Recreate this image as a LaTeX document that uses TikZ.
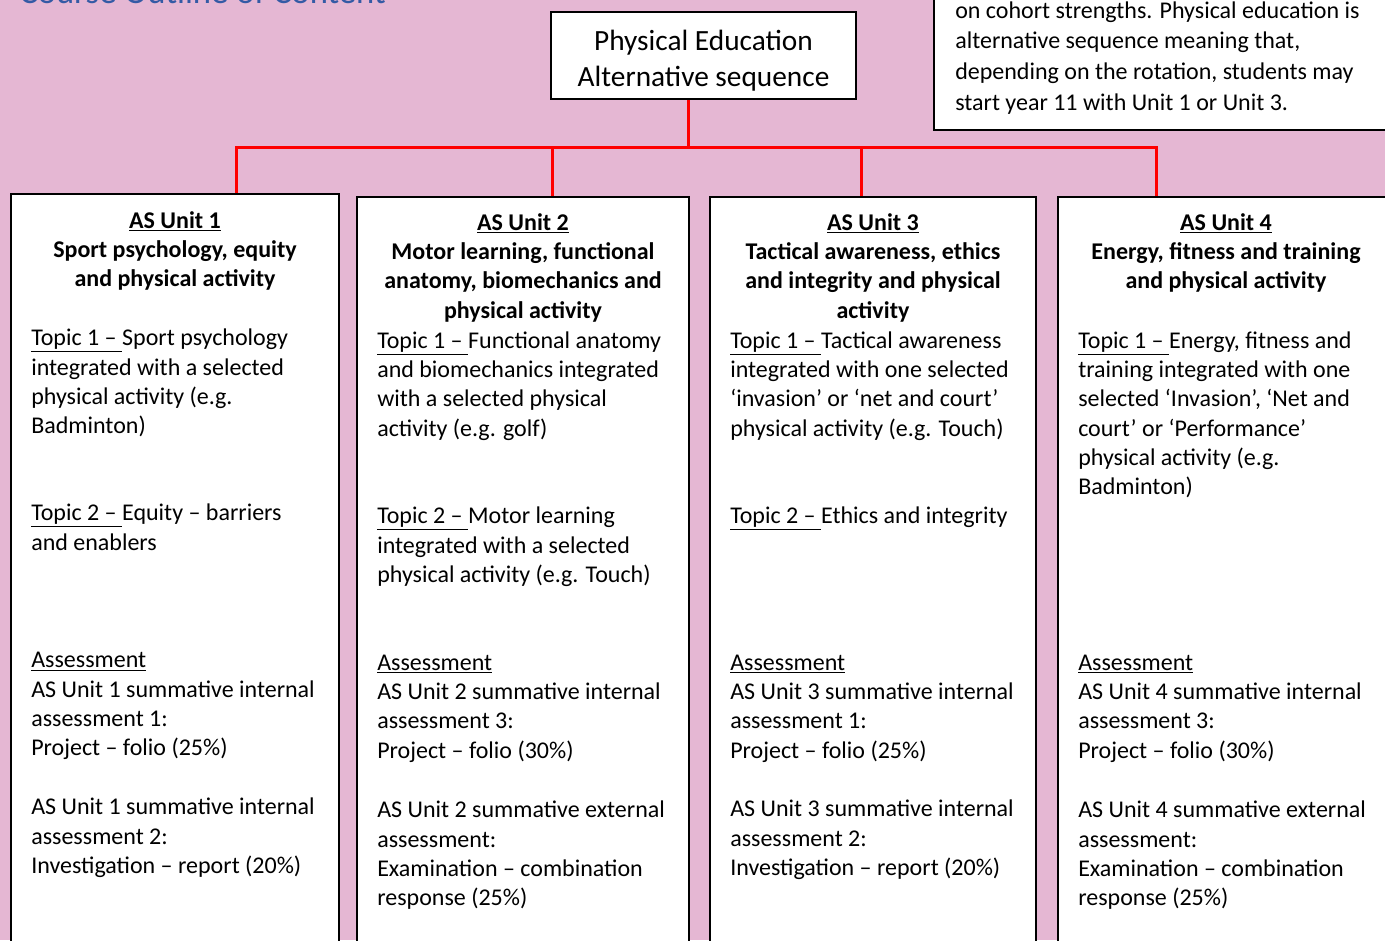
\documentclass[tikz,border=0pt]{standalone}
\usepackage{fontspec}
\setmainfont{Carlito}
\usetikzlibrary{fit}
\definecolor{pinkbg}{RGB}{229,183,211}
\definecolor{headblue}{RGB}{52,90,165}
\definecolor{linkred}{RGB}{255,0,0}

\begin{document}
\begin{tikzpicture}
        [x=0.75pt, y=-0.75pt,
        box/.style={draw, line width=1.5pt, fill=white, inner sep=0pt},
        txt/.style={anchor=north west, align=left, inner sep=0pt, font=\fontsize{18}{22}\selectfont},
        head/.style={anchor=north, align=center, inner sep=0pt, font=\fontsize{18}{22}\selectfont\bfseries},
        link/.style={draw=linkred, line width=2.25pt}]
        \useasboundingbox (0,0) rectangle (1385,940);
        \clip (0,0) rectangle (1385,940);
        \fill[pinkbg] (0,0) rectangle (1385,940);
        \node[anchor=base east, inner sep=0pt, text=headblue, font=\fontsize{26}{30}\selectfont] (heading) at (386,3) {Course Outline of Content};

        % boxes
        \node[box, fit={(551,12) (856,99)}] (title) {};
        \node[align=center, inner sep=0pt, font=\fontsize{22}{27}\selectfont] (titletxt) at (703.5,61) {Physical Education\\Alternative sequence};
        \node[box, fit={(934,-20) (1400,130)}] (note) {};
        \node[box, fit={(11,194) (339,960)}] (u1) {};
        \node[box, fit={(357,197) (689,960)}] (u2) {};
        \node[box, fit={(710,197) (1036,960)}] (u3) {};
        \node[box, fit={(1058,197) (1400,960)}] (u4) {};

        % red links
        \coordinate (bus) at (688,147);
        \coordinate (b1) at (236,147);
        \coordinate (b2) at (552,147);
        \coordinate (b3) at (861,147);
        \coordinate (b4) at (1156,147);
        \draw[link] (title.south -| bus) -- (bus);
        \draw[link] (b1 |- u1.north) -- (b1) -- (b4) -- (b4 |- u4.north);
        \draw[link] (b2) -- (b2 |- u2.north);
        \draw[link] (b3) -- (b3 |- u3.north);

        % note text
        \node[txt, font=\fontsize{18}{23}\selectfont] (notetxt) at (955,-3.5) {\strut on cohort strengths. Physical education is\\alternative sequence meaning that,\\depending on the rotation, students may\\start year 11 with Unit 1 or Unit 3.};

        % unit 1
        \node[head] (h1) at (175,207.5) {\strut\underline{AS Unit 1}\\Sport psychology, equity\\and physical activity};
        \node[txt] (t11) at (31,325) {\strut\underline{Topic 1 –\ }Sport psychology\\integrated with a selected\\physical activity (e.g.\\Badminton)};
        \node[txt] (t12) at (31,500) {\strut\underline{Topic 2 –\ }Equity – barriers\\and enablers};
        \node[txt] (a11) at (31,647) {\strut\underline{Assessment}\\AS Unit 1 summative internal\\assessment 1:\\Project – folio (25\%)};
        \node[txt] (a12) at (31,794) {\strut AS Unit 1 summative internal\\assessment 2:\\Investigation – report (20\%)};

        % unit 2
        \node[head] (h2) at (523,209.5) {\strut\underline{AS Unit 2}\\Motor learning, functional\\anatomy, biomechanics and\\physical activity};
        \node[txt] (t21) at (377,327.5) {\strut\underline{Topic 1 –\ }Functional anatomy\\and biomechanics integrated\\with a selected physical\\activity (e.g. golf)};
        \node[txt] (t22) at (377,503) {\strut\underline{Topic 2 –\ }Motor learning\\integrated with a selected\\physical activity (e.g. Touch)};
        \node[txt] (a21) at (377,649.5) {\strut\underline{Assessment}\\AS Unit 2 summative internal\\assessment 3:\\Project – folio (30\%)};
        \node[txt] (a22) at (377,797) {\strut AS Unit 2 summative external\\assessment:\\Examination – combination\\response (25\%)};

        % unit 3
        \node[head] (h3) at (873,209.5) {\strut\underline{AS Unit 3}\\Tactical awareness, ethics\\and integrity and physical\\activity};
        \node[txt] (t31) at (730,327.5) {\strut\underline{Topic 1 –\ }Tactical awareness\\integrated with one selected\\‘invasion’ or ‘net and court’\\physical activity (e.g. Touch)};
        \node[txt] (t32) at (730,503) {\strut\underline{Topic 2 –\ }Ethics and integrity};
        \node[txt] (a31) at (730,649.5) {\strut\underline{Assessment}\\AS Unit 3 summative internal\\assessment 1:\\Project – folio (25\%)};
        \node[txt] (a32) at (730,796) {\strut AS Unit 3 summative internal\\assessment 2:\\Investigation – report (20\%)};

        % unit 4
        \node[head] (h4) at (1226,209.5) {\strut\underline{AS Unit 4}\\Energy, fitness and training\\and physical activity};
        \node[txt] (t41) at (1078,327.5) {\strut\underline{Topic 1 –\ }Energy, fitness and\\training integrated with one\\selected ‘Invasion’, ‘Net and\\court’ or ‘Performance’\\physical activity (e.g.\\Badminton)};
        \node[txt] (a41) at (1078,649.5) {\strut\underline{Assessment}\\AS Unit 4 summative internal\\assessment 3:\\Project – folio (30\%)};
        \node[txt] (a42) at (1078,797) {\strut AS Unit 4 summative external\\assessment:\\Examination – combination\\response (25\%)};
\end{tikzpicture}
\end{document}
